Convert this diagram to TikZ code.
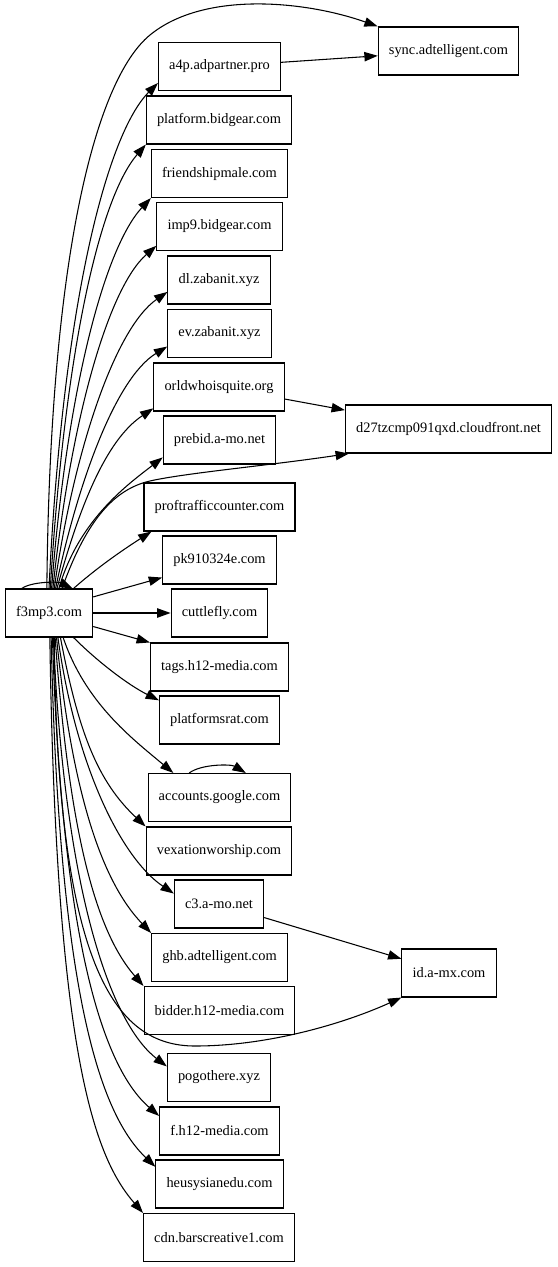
\documentclass[tikz,border=0pt]{standalone}
\usepackage{fontspec}
\setmainfont{Liberation Serif}
\usetikzlibrary{arrows.meta, positioning}
\tikzset{
    site/.style={draw=black, line width=0.8pt, rectangle, minimum height=36pt, inner xsep=8pt, font=\fontsize{10.8pt}{13pt}\selectfont},
    link/.style={-{Triangle[length=10pt, width=7pt]}, line width=0.8pt, black}
}
\begin{document}
\begin{tikzpicture}[x=0.75pt, y=-0.75pt]
  \useasboundingbox (0,0) rectangle (557,1267);

  % source
  \node (fm) [site] at (49,613) {f3mp3.com};

  % middle column
  \node (a4p) [site] at (219.5,66.5) {a4p.adpartner.pro};
  \node (platbg) [site] at (219,120) {platform.bidgear.com};
  \node (friend) [site] at (219.5,173.5) {friendshipmale.com};
  \node (imp9) [site] at (219.5,226.5) {imp9.bidgear.com};
  \node (dlzab) [site] at (219,280) {dl.zabanit.xyz};
  \node (evzab) [site] at (219.5,333.5) {ev.zabanit.xyz};
  \node (orld) [site] at (219,387) {orldwhoisquite.org};
  \node (prebid) [site] at (219.5,440) {prebid.a-mo.net};
  \node (proft) [site] at (219.5,507) {proftrafficcounter.com};
  \node (pk91) [site] at (219.5,560) {pk910324e.com};
  \node (cuttle) [site] at (219.5,613) {cuttlefly.com};
  \node (tags) [site] at (219.5,667) {tags.h12-media.com};
  \node (psrat) [site] at (219.5,720) {platformsrat.com};
  \node (google) [site] at (219.5,797.5) {accounts.google.com};
  \node (vexa) [site] at (219,851) {vexationworship.com};
  \node (cthree) [site] at (219,904) {c3.a-mo.net};
  \node (ghb) [site] at (219.5,957.5) {ghb.adtelligent.com};
  \node (bidder) [site] at (219.5,1010.5) {bidder.h12-media.com};
  \node (pogo) [site] at (219,1077.5) {pogothere.xyz};
  \node (fhtw) [site] at (219.5,1131) {f.h12-media.com};
  \node (heusy) [site] at (219.5,1184) {heusysianedu.com};
  \node (cdn) [site] at (219,1237.5) {cdn.barscreative1.com};

  % right column
  \node (sync) [site] at (448.5,51) {sync.adtelligent.com};
  \node (dcloud) [site] at (448.5,429) {d27tzcmp091qxd.cloudfront.net};
  \node (idamx) [site] at (449,973) {id.a-mx.com};

  % upper fan
  \draw [link] (fm.95) .. controls +(3,-330) and +(-55,45) .. (150,35) .. controls +(55,-45) and +(-70,-25) .. (sync.north west);
  \draw [link] (fm.90) .. controls +(14,-290) and +(-50,50) .. (a4p.195);
  \draw [link] (fm.87) .. controls +(15,-245) and +(-45,52) .. (platbg.south west);
  \draw [link] (fm.84) .. controls +(16,-205) and +(-45,48) .. (friend.south west);
  \draw [link] (fm.81) .. controls +(18,-170) and +(-48,42) .. (imp9.197);
  \draw [link] (fm.78) .. controls +(20,-140) and +(-52,36) .. (dlzab.193);
  \draw [link] (fm.75) .. controls +(22,-105) and +(-52,32) .. (evzab.194);
  \draw [link] (fm.72) .. controls +(22,-80) and +(-48,32) .. (orld.198);
  \draw [link] (fm.68) .. controls +(20,-70) and +(-32,25) .. (prebid.197);
  \draw [link] (fm.62) .. controls +(25,-70) and +(-35,8) .. (150,481) .. controls +(35,-8) and +(-80,12) .. ([xshift=3pt]dcloud.south west);
  \draw [link] (fm.45) .. controls +(25,-22) and +(-28,18) .. ([xshift=6pt]proft.south west);
  \draw [link] (fm.20) -- (pk91.197);
  \draw [link] (fm) -- (cuttle);
  \draw [link] (fm.343) -- (tags.north west);

  % lower fan
  \draw [link] (fm.315) .. controls +(25,25) and +(-30,-15) .. (psrat.162);
  \draw [link] (fm.300) .. controls +(22,65) and +(-42,-35) .. (google.152);
  \draw [link] (fm.295) .. controls +(18,95) and +(-48,-45) .. (vexa.north west);
  \draw [link] (fm.290) .. controls +(18,130) and +(-52,-35) .. (cthree.167);
  \draw [link] (fm.287) .. controls +(16,160) and +(-48,-50) .. (ghb.north west);
  \draw [link] (fm.284) .. controls +(14,195) and +(-48,-55) .. (bidder.north west);
  \draw [link] (fm.282) .. controls +(3,330) and +(-80,0) .. (195,1046) .. controls +(75,0) and +(-55,25) .. (idamx.south west);
  \draw [link] (fm.280) .. controls +(12,270) and +(-52,-40) .. (pogo.168);
  \draw [link] (fm.278) .. controls +(10,320) and +(-52,-45) .. (fhtw.166);
  \draw [link] (fm.275) .. controls +(8,370) and +(-52,-50) .. (heusy.165);
  \draw [link] (fm.272) .. controls +(6,420) and +(-48,-55) .. (cdn.north west);

  % second hop
  \draw [link] (a4p) -- (sync);
  \draw [link] (orld) -- (dcloud);
  \draw [link] (cthree) -- (idamx);

  % loops
  \draw [link] (fm.138) .. controls +(10,-7) and +(-15,-7) .. (fm.46);
  \draw [link] (google.141) .. controls +(12,-9) and +(-15,-9) .. (google.43);
\end{tikzpicture}
\end{document}
